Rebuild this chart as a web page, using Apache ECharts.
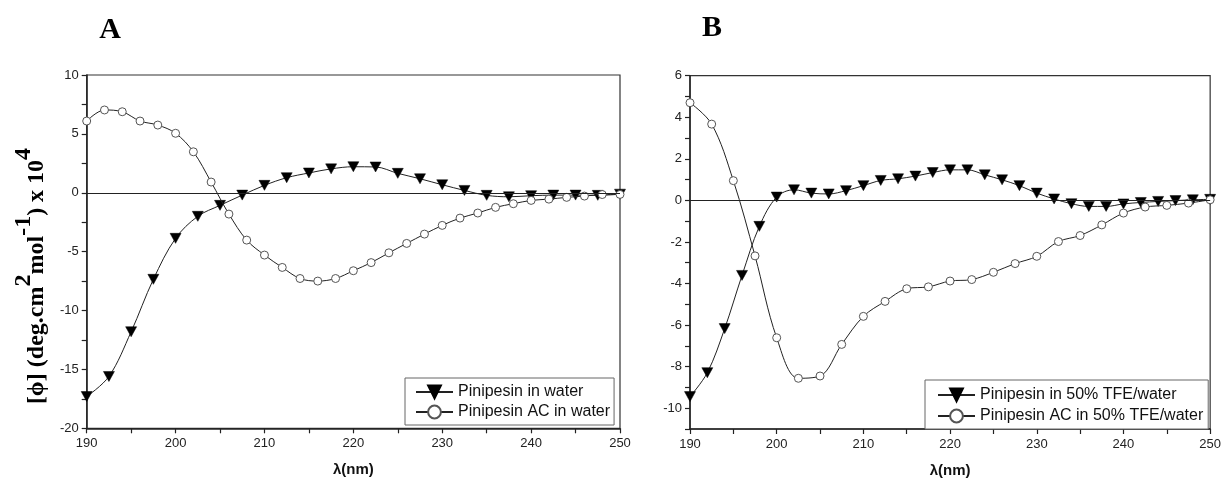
<!DOCTYPE html>
<html>
<head>
<meta charset="utf-8">
<script src="https://cdn.jsdelivr.net/npm/echarts@6/dist/echarts.min.js"></script>
<style>
html,body{margin:0;padding:0;background:#fff;}
#c{width:1224px;height:483px;}
</style>
</head>
<body>
<div id="c"></div>
<script>
// ---- Panel A data ----
var aTriX = [190,192.5,195,197.5,200,202.5,205,207.5,210,212.5,215,217.5,220,222.5,225,227.5,230,232.5,235,237.5,240,242.5,245,247.5,250];
var aTriY = [-17.3,-15.6,-11.8,-7.35,-3.87,-2.0,-1.07,-0.2,0.63,1.28,1.68,2.03,2.21,2.19,1.65,1.19,0.68,0.2,-0.22,-0.34,-0.25,-0.2,-0.2,-0.22,-0.12];
var aCirX = [190,192,194,196,198,200,202,204,206,208,210,212,214,216,218,220,222,224,226,228,230,232,234,236,238,240,242,244,246,248,250];
var aCirY = [6.09,7.03,6.88,6.09,5.75,5.05,3.48,0.91,-1.81,-4.02,-5.29,-6.34,-7.28,-7.5,-7.28,-6.62,-5.93,-5.1,-4.3,-3.51,-2.77,-2.15,-1.72,-1.24,-0.93,-0.65,-0.54,-0.39,-0.28,-0.15,-0.14];
// ---- Panel B data ----
var bTriX = [190,192,194,196,198,200,202,204,206,208,210,212,214,216,218,220,222,224,226,228,230,232,234,236,238,240,242,244,246,248,250];
var bTriY = [-9.44,-8.29,-6.17,-3.61,-1.25,0.16,0.51,0.35,0.31,0.47,0.71,0.96,1.04,1.17,1.34,1.47,1.47,1.23,0.99,0.71,0.35,0.07,-0.16,-0.29,-0.29,-0.17,-0.1,-0.05,-0.01,0.03,0.05];
var bCirX = [190,192.5,195,197.5,200,202.5,205,207.5,210,212.5,215,217.5,220,222.5,225,227.5,230,232.5,235,237.5,240,242.5,245,247.5,250];
var bCirY = [4.7,3.67,0.95,-2.67,-6.61,-8.56,-8.45,-6.93,-5.58,-4.86,-4.25,-4.16,-3.88,-3.81,-3.46,-3.04,-2.69,-1.98,-1.69,-1.18,-0.61,-0.32,-0.24,-0.13,0.03];
// ---- names / labels ----
var seriesNamesA = ['Pinipesin in water','Pinipesin AC in water'];
var seriesNamesB = ['Pinipesin in 50% TFE/water','Pinipesin AC in 50% TFE/water'];
var panelTitles = ['A','B'];
var xAxisTitle = 'λ(nm)';

function pairs(xs, ys){ return xs.map(function(x,i){ return [x, ys[i]]; }); }

var SANS = '"Liberation Sans", Arial, sans-serif';
var SERIF = '"Liberation Serif", "Times New Roman", serif';
var AX = '#222';

function xAxisCfg(gi){
  return {
    type:'value', gridIndex:gi, min:190, max:250, interval:10,
    axisLine:{show:true, onZero:false, lineStyle:{color:AX, width:1.5}},
    axisTick:{show:true, inside:false, length:5, lineStyle:{color:AX, width:1.2}},
    minorTick:{show:true, splitNumber:2, length:5, lineStyle:{color:AX, width:1.2}},
    splitLine:{show:false},
    axisLabel:{fontFamily:SANS, fontSize:13, color:'#222', margin:9},
    name:xAxisTitle, nameLocation:'middle', nameGap:34,
    nameTextStyle:{fontFamily:SANS, fontSize:15, fontWeight:'bold', color:'#111'}
  };
}

function lineSeries(name, xi, yi, data, isTri){
  var s = {
    name:name, type:'line', xAxisIndex:xi, yAxisIndex:yi,
    data:data, smooth:0.35, clip:false,
    lineStyle:{color:'#222', width:1},
    symbol: isTri ? 'triangle' : 'circle',
    symbolSize: isTri ? [11,10] : 8,
    symbolRotate: isTri ? 180 : 0,
    itemStyle: isTri ? {color:'#000', borderColor:'#000', borderWidth:0.5} : {color:'#fff', borderColor:'#555', borderWidth:1},
    emphasis:{disabled:true},
    z: isTri ? 3 : 4
  };
  return s;
}

var zeroLine = {
  silent:true, symbol:'none', label:{show:false},
  lineStyle:{color:'#222', type:'solid', width:1.2},
  data:[{yAxis:0}]
};

var sA0 = lineSeries(seriesNamesA[0],0,0,pairs(aTriX,aTriY),true);
sA0.markLine = zeroLine;
var sA1 = lineSeries(seriesNamesA[1],0,0,pairs(aCirX,aCirY),false);
var sB0 = lineSeries(seriesNamesB[0],1,1,pairs(bTriX,bTriY),true);
sB0.markLine = zeroLine;
var sB1 = lineSeries(seriesNamesB[1],1,1,pairs(bCirX,bCirY),false);

var legendBase = {
  orient:'vertical', backgroundColor:'#fff', borderColor:'#666', borderWidth:1,
  itemWidth:37, itemHeight:16, itemGap:4, selectedMode:false,
  textStyle:{fontFamily:SANS, fontSize:16, color:'#111'}
};

var supMain = {fontFamily:SERIF, fontSize:24, fontWeight:'bold', color:'#111', lineHeight:50};
var supSup = {fontFamily:SERIF, fontSize:24, fontWeight:'bold', color:'#111', lineHeight:26, verticalAlign:'top'};

var option = {
  animation:false,
  backgroundColor:'#fff',
  grid:[
    {left:86.7, right:1224-620, top:75, bottom:483-428.3, show:true, borderColor:'#333', borderWidth:1.2, backgroundColor:'transparent'},
    {left:690, right:1224-1213, top:75.7, bottom:483-429.3, show:true, borderColor:'#333', borderWidth:1.2, backgroundColor:'transparent'}
  ],
  xAxis:[xAxisCfg(0), xAxisCfg(1)],
  yAxis:[
    {type:'value', gridIndex:0, min:-20, max:10, interval:5,
     axisLine:{show:true, onZero:false, lineStyle:{color:AX, width:1.5}},
     axisTick:{show:true, length:5, lineStyle:{color:AX, width:1.2}},
     minorTick:{show:true, splitNumber:2, length:5, lineStyle:{color:AX, width:1.2}},
     splitLine:{show:false},
     axisLabel:{fontFamily:SANS, fontSize:13, color:'#222', margin:8}},
    {type:'value', gridIndex:1, min:-11, max:6, interval:1,
     axisLine:{show:true, onZero:false, lineStyle:{color:AX, width:1.5}},
     axisTick:{show:true, length:5, lineStyle:{color:AX, width:1.2}},
     splitLine:{show:false},
     axisLabel:{fontFamily:SANS, fontSize:13, color:'#222', margin:8, interval:0,
       formatter:function(v){ return (Math.round(v) % 2 === 0) ? String(v) : ''; }}}
  ],
  legend:[
    Object.assign({}, legendBase, {data:seriesNamesA, left:405, top:378, padding:[6,4,5,10]}),
    Object.assign({}, legendBase, {data:seriesNamesB, left:925, top:380, padding:[7,5,5,12], itemGap:5})
  ],
  graphic:[
    {type:'text', x:110, y:30, style:{text:panelTitles[0], font:'bold 30px ' + SERIF, fill:'#000', align:'center', verticalAlign:'middle'}},
    {type:'text', x:712, y:28, style:{text:panelTitles[1], font:'bold 30px ' + SERIF, fill:'#000', align:'center', verticalAlign:'middle'}},
    {type:'text', x:37, y:276, rotation:Math.PI/2,
     style:{
       text:'{m|[ϕ] (deg.cm}{s|2}{m|mol}{s|-1}{m|) x 10}{s|4}',
       align:'center', verticalAlign:'middle',
       rich:{m:supMain, s:supSup}
     }}
  ],
  series:[sA0, sA1, sB0, sB1]
};

var chart = echarts.init(document.getElementById('c'), null, {renderer:'canvas'});
chart.setOption(option);
</script>
</body>
</html>
